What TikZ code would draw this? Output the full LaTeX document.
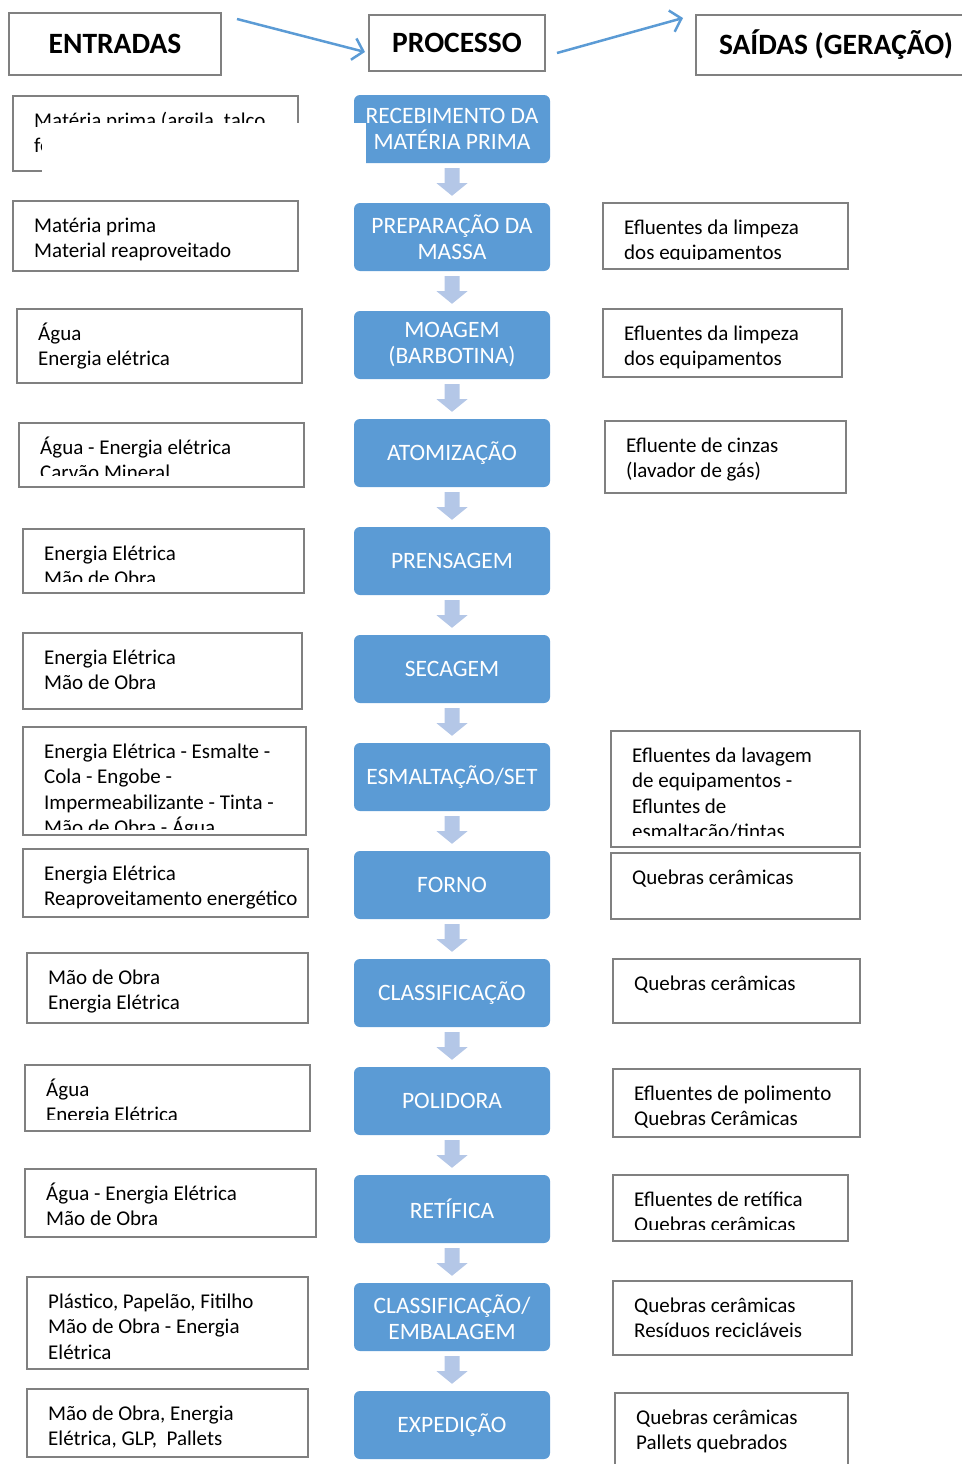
\documentclass[tikz,border=0pt]{standalone}
\usepackage{fontspec}
\setmainfont{Carlito}
\usetikzlibrary{calc,arrows.meta}

\definecolor{procblue}{HTML}{5B9BD5}
\definecolor{flowblue}{HTML}{B4C7E7}
\definecolor{boxgray}{HTML}{808080}

\tikzset{
  hdrbox/.style={draw=boxgray,line width=2pt,inner sep=0pt,font=\fontsize{29.5}{32}\selectfont\bfseries},
  iobox/.style={draw=boxgray,line width=2pt,inner sep=0pt,anchor=north west},
  iotext/.style={font=\fontsize{21}{25.5}\selectfont,align=left,inner sep=0pt,anchor=north west},
  procbox/.style={fill=procblue,rounded corners=6pt,text=white,align=center,inner sep=0pt,
    minimum width=196pt,minimum height=68pt,font=\fontsize{23.5}{26}\selectfont},
  hdrarrow/.style={draw=procblue,line width=2.5pt,-{Straight Barb[length=10pt,width=22pt]}},
  flowarrow/.style={fill=flowblue}
}

% box with text cut off near the bottom edge (#1 = cut height)
\newcommand{\ioentry}[7][6]{%
  \node[iobox,minimum width=#5-#3,minimum height=#6-#4] (#2) at (#3,#4) {};
  \begin{scope}
    \clip ([shift={(1pt,-1pt)}]#2.north west) rectangle ([shift={(-1pt,#1pt)}]#2.south east);
    \node[iotext] (#2t) at ([shift={(22pt,-14pt)}]#2.north west) {\strut #7};
  \end{scope}}

\begin{document}
\begin{tikzpicture}[x=1pt,y=-1pt]
  \useasboundingbox (0,0) rectangle (961,1464);

  % headers
  \node[hdrbox,minimum width=212,minimum height=62] (entradas) at (115,44) {ENTRADAS};
  \node[hdrbox,minimum width=176,minimum height=56] (processo) at (457,43) {PROCESSO};
  \node[hdrbox,minimum width=280,minimum height=60,anchor=west] (saidas) at (695,45) {SAÍDAS (GERAÇÃO)};
  \draw[hdrarrow] ([shift={(15pt,-7pt)}]entradas.north east) -- ([shift={(-3pt,-9pt)}]processo.west);
  \draw[hdrarrow] ([shift={(11pt,-10pt)}]processo.east) -- ([shift={(-12pt,27pt)}]saidas.west);

  % process column
  \foreach \i/\txt in {1/{RECEBIMENTO DA\\MATÉRIA PRIMA},2/{PREPARAÇÃO DA\\MASSA},
      3/{MOAGEM\\(BARBOTINA)},4/ATOMIZAÇÃO,5/PRENSAGEM,6/SECAGEM,7/{ESMALTAÇÃO/SET},
      8/FORNO,9/CLASSIFICAÇÃO,10/POLIDORA,11/RETÍFICA,12/{CLASSIFICAÇÃO/\\EMBALAGEM},13/EXPEDIÇÃO}
    \node[procbox] (p\i) at (452,{129+108*(\i-1)}) {\txt};
  \foreach \i [evaluate=\i as \j using int(\i+1)] in {1,...,12}
    \fill[flowarrow] ($(p\i.south)+(-7.5,5)$) -- ++(15,0) -- ++(0,15) -- ++(8,0)
      -- ($(p\j.north)+(0,-7)$) -- ($(p\i.south)+(-15.5,20)$) -- ++(8,0) -- cycle;

  % entradas
  \ioentry{e1}{12}{95}{297}{170}{Matéria prima (argila, talco,\\feldspato, caulim)}
  \ioentry{e2}{12}{200}{297}{270}{Matéria prima\\Material reaproveitado}
  \ioentry{e3}{16}{308}{301}{382}{Água\\Energia elétrica}
  \ioentry[13]{e4}{18}{422}{303}{486}{Água - Energia elétrica\\Carvão Mineral}
  \ioentry[13]{e5}{22}{528}{303}{592}{Energia Elétrica\\Mão de Obra}
  \ioentry{e6}{22}{632}{301}{708}{Energia Elétrica\\Mão de Obra}
  \ioentry[7]{e7}{22}{726}{305}{834}{Energia Elétrica - Esmalte -\\Cola - Engobe -\\Impermeabilizante - Tinta -\\Mão de Obra - Água}
  \ioentry[4]{e8}{22}{848}{307}{916}{Energia Elétrica\\Reaproveitamento energético}
  \ioentry{e9}{26}{952}{307}{1022}{Mão de Obra\\Energia Elétrica}
  \ioentry[13]{e10}{24}{1064}{309}{1130}{Água\\Energia Elétrica}
  \ioentry{e11}{24}{1168}{315}{1236}{Água - Energia Elétrica\\Mão de Obra}
  \ioentry[10]{e12}{26}{1276}{307}{1368}{Plástico, Papelão, Fitilho\\Mão de Obra - Energia\\Elétrica}
  \ioentry{e13}{26}{1388}{307}{1456}{Mão de Obra, Energia\\Elétrica, GLP,~ Pallets}

  % saidas
  \ioentry[11]{s2}{602}{202}{847}{268}{Efluentes da limpeza\\dos equipamentos}
  \ioentry[8]{s3}{602}{308}{841}{376}{Efluentes da limpeza\\dos equipamentos}
  \ioentry{s4}{604}{420}{845}{492}{Efluente de cinzas\\(lavador de gás)}
  \ioentry[13]{s7}{610}{730}{859}{846}{Efluentes da lavagem\\de equipamentos -\\Efluntes de\\esmaltação/tintas}
  \ioentry{s8}{610}{852}{859}{918}{Quebras cerâmicas}
  \ioentry{s9}{612}{958}{859}{1022}{Quebras cerâmicas}
  \ioentry{s10}{612}{1068}{859}{1136}{Efluentes de polimento\\Quebras Cerâmicas}
  \ioentry[13]{s11}{612}{1174}{847}{1240}{Efluentes de retífica\\Quebras cerâmicas}
  \ioentry{s12}{612}{1280}{851}{1354}{Quebras cerâmicas\\Resíduos recicláveis}
  \ioentry{s13}{614}{1392}{847}{1480}{Quebras cerâmicas\\Pallets quebrados}

  % blank patch over the first row
  \fill[white] (42,122.5) rectangle (366,176);
\end{tikzpicture}
\end{document}
